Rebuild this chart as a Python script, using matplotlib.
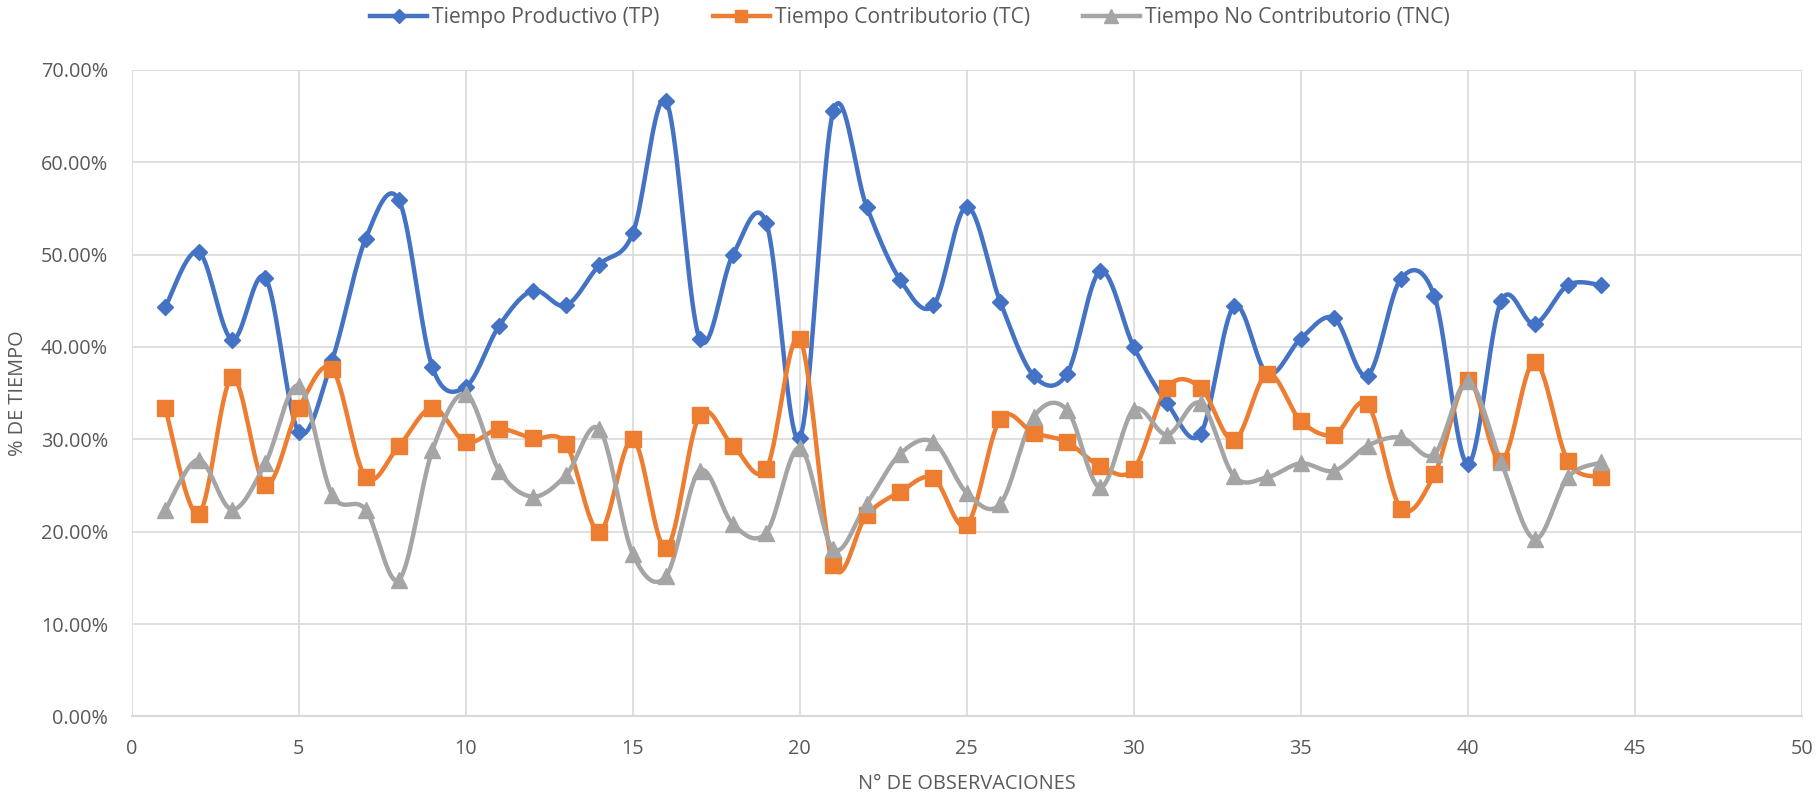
import numpy as np
import matplotlib.pyplot as plt
from matplotlib.ticker import PercentFormatter

# observation numbers
obs = list(range(1, 45))

# Tiempo Productivo (TP), %
tp = [44.3, 50.3, 40.8, 47.5, 30.8, 38.6, 51.7, 55.9, 37.8, 35.7,
      42.3, 46.1, 44.5, 48.9, 52.3, 66.6, 40.9, 50.0, 53.4, 30.1,
      65.5, 55.2, 47.3, 44.5, 55.2, 44.9, 36.9, 37.1, 48.2, 40.0,
      33.9, 30.6, 44.4, 37.1, 40.9, 43.1, 36.9, 47.4, 45.5, 27.3,
      45.0, 42.5, 46.7, 46.7]

# Tiempo Contributorio (TC), %
tc = [33.4, 21.9, 36.7, 25.1, 33.4, 37.6, 25.9, 29.3, 33.4, 29.7,
      31.1, 30.1, 29.5, 20.0, 30.0, 18.2, 32.6, 29.3, 26.8, 40.9,
      16.4, 21.8, 24.3, 25.8, 20.7, 32.2, 30.7, 29.7, 27.1, 26.8,
      35.6, 35.6, 29.9, 37.1, 32.0, 30.5, 33.8, 22.5, 26.2, 36.4,
      27.6, 38.4, 27.6, 25.9]

# Tiempo No Contributorio (TNC), %
tnc = [22.3, 27.8, 22.4, 27.4, 35.8, 24.0, 22.4, 14.8, 28.8, 34.9,
       26.6, 23.8, 26.1, 31.1, 17.6, 15.2, 26.6, 20.8, 19.9, 29.1,
       18.1, 23.0, 28.4, 29.7, 24.2, 23.0, 32.4, 33.2, 24.8, 33.2,
       30.5, 33.9, 26.0, 25.9, 27.4, 26.6, 29.3, 30.2, 28.4, 36.3,
       27.5, 19.2, 25.9, 27.5]

names = ["Tiempo Productivo (TP)", "Tiempo Contributorio (TC)",
         "Tiempo No Contributorio (TNC)"]
colors = ["#4472C4", "#ED7D31", "#A5A5A5"]
markers = ["D", "s", "^"]
msizes = [8.5, 11, 12]


def smooth(x, y, n=20):
    # Excel-like smoothed line: Catmull-Rom bezier between points
    x = np.asarray(x, float)
    y = np.asarray(y, float)
    xs, ys = [], []
    for i in range(len(x) - 1):
        p0 = (x[max(i - 1, 0)], y[max(i - 1, 0)])
        p1 = (x[i], y[i])
        p2 = (x[i + 1], y[i + 1])
        p3 = (x[min(i + 2, len(x) - 1)], y[min(i + 2, len(x) - 1)])
        c1 = (p1[0] + (p2[0] - p0[0]) / 6, p1[1] + (p2[1] - p0[1]) / 6)
        c2 = (p2[0] - (p3[0] - p1[0]) / 6, p2[1] - (p3[1] - p1[1]) / 6)
        t = np.linspace(0, 1, n)
        a, b, c, d = (1 - t) ** 3, 3 * (1 - t) ** 2 * t, 3 * (1 - t) * t ** 2, t ** 3
        xs.append(a * p1[0] + b * c1[0] + c * c2[0] + d * p2[0])
        ys.append(a * p1[1] + b * c1[1] + c * c2[1] + d * p2[1])
    return np.concatenate(xs), np.concatenate(ys)


plt.rcParams['font.family'] = ['Open Sans', 'DejaVu Sans']
txt = "#595959"

fig = plt.figure(figsize=(18.2, 7.99), dpi=100)
ax = fig.add_axes([0.0724, 0.1034, 0.9176, 0.8091])

handles = []
for vals, name, col, mk, ms in zip([tp, tc, tnc], names, colors, markers, msizes):
    sx, sy = smooth(obs, vals)
    ax.plot(sx, sy, color=col, lw=3.2, solid_capstyle='round', zorder=3)
    ax.plot(obs, vals, ls='none', marker=mk, ms=ms, color=col, zorder=4)
    h, = ax.plot([], [], color=col, lw=3.2, marker=mk, ms=ms * 0.8, label=name)
    handles.append(h)

ax.set_xlim(0, 50)
ax.set_ylim(0, 70)
ax.set_xticks(range(0, 51, 5))
ax.set_yticks(range(0, 71, 10))
ax.yaxis.set_major_formatter(PercentFormatter(decimals=2))
ax.grid(True, color="#D9D9D9", lw=1.2)
ax.set_axisbelow(True)
for s in ax.spines.values():
    s.set_visible(False)
ax.spines['bottom'].set_visible(True)
ax.spines['bottom'].set_color("#D9D9D9")
ax.spines['bottom'].set_linewidth(1.5)
ax.tick_params(length=0, labelsize=14.3, labelcolor=txt)
ax.tick_params(axis='y', pad=17)
ax.tick_params(axis='x', pad=16)

ax.set_xlabel("N° DE OBSERVACIONES", fontsize=14.3, color=txt)
ax.set_ylabel("% DE TIEMPO", fontsize=14.3, color=txt)
ax.xaxis.set_label_coords(0.5, -0.089)
ax.yaxis.set_label_coords(-0.062, 0.5)

fig.legend(handles=handles, loc='center', bbox_to_anchor=(0.5, 1 - 18 / 799),
           ncol=3, frameon=False, fontsize=15.2, handlelength=2.7,
           handletextpad=0.25, columnspacing=2.5, labelcolor=txt)

fig.savefig("out.png", dpi=100)
